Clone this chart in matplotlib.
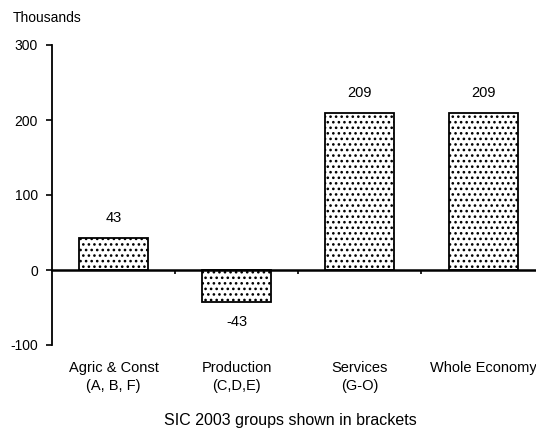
import matplotlib
matplotlib.use("Agg")
import matplotlib.pyplot as plt
import matplotlib.transforms as mtransforms

plt.rcParams['font.family'] = ['Liberation Sans', 'DejaVu Sans']
plt.rcParams['hatch.linewidth'] = 1.1
plt.rcParams['hatch.color'] = '#333333'
plt.rcParams['axes.unicode_minus'] = False

# data
categories = ["Agric & Const\n(A, B, F)", "Production\n(C,D,E)", "Services\n(G-O)", "Whole Economy"]
values = [43, -43, 209, 209]
yticks = [-100, 0, 100, 200, 300]

fig = plt.figure(figsize=(5.36, 4.33), dpi=100)
ax = fig.add_axes([52/536, 88/433, 484/536, 300/433])

x = list(range(len(values)))
ax.bar(x, values, width=0.56, color='white', edgecolor='black', linewidth=1.3,
       hatch='...')

ax.set_ylim(-100, 300)
ax.set_xlim(-0.5, 3.43)
ax.set_yticks(yticks)
ax.tick_params(axis='y', direction='out', length=4, width=1.2, labelsize=10, pad=6)

ax.spines['top'].set_visible(False)
ax.spines['right'].set_visible(False)
ax.spines['bottom'].set_position(('data', 0))
ax.spines['bottom'].set_linewidth(1.8)
ax.spines['left'].set_linewidth(1.3)
ax.set_xticks([0.5, 1.5, 2.5])
ax.set_xticklabels([])
ax.tick_params(axis='x', direction='out', length=3, width=1.2)

# value labels
for xi, v in zip(x, values):
    off = 14.5 if v >= 0 else -14
    ax.annotate(str(v), (xi, v), xytext=(0, off), textcoords='offset points',
                ha='center', va='center', fontsize=10.5)

# category labels below the plot
trans = mtransforms.blended_transform_factory(ax.transData, fig.transFigure)
for xi, lab in zip(x, categories):
    ax.text(xi, 1 - 361/433, lab, transform=trans, ha='center', va='top',
            fontsize=10.5, linespacing=1.35)

fig.text(290/536, 1 - 421/433, "SIC 2003 groups shown in brackets",
         ha='center', va='center', fontsize=11.5)
fig.text(13/536, 1 - 18/433, "Thousands", ha='left', va='center', fontsize=10)

fig.savefig("out.png", dpi=100)
